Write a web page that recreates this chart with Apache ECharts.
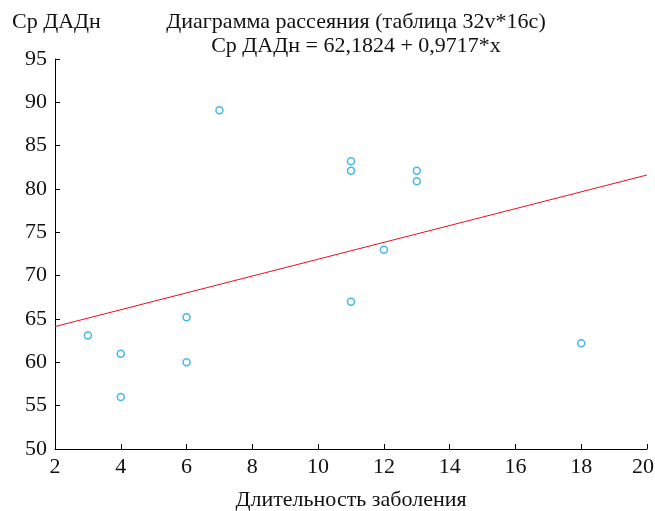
<!DOCTYPE html>
<html><head><meta charset="utf-8">
<script src="https://cdn.jsdelivr.net/npm/echarts@6/dist/echarts.min.js"></script>
<style>html,body{margin:0;padding:0;background:#fff}#c{width:655px;height:511px}</style>
</head><body><div id="c"></div>
<script>
const xValues = [3, 4, 4, 6, 6, 7, 11, 11, 11, 12, 13, 13, 18];
const yValues = [63.1, 61.0, 56.0, 65.2, 60.0, 89.1, 83.2, 82.1, 67.0, 73.0, 82.1, 80.9, 62.2];
const intercept = 62.1824;
const slope = 0.9717;
const titleLine1 = 'Диаграмма рассеяния (таблица 32v*16c)';
const titleLine2 = 'Ср ДАДн = 62,1824 + 0,9717*x';
const yName = 'Ср ДАДн';
const xName = 'Длительность заболения';

const font = 'Liberation Serif';
const fs = 22;
const xMax = 20;
const points = xValues.map((x, i) => [x, yValues[i]]);
const lineData = [[2, intercept + slope * 2], [xMax, intercept + slope * xMax]];

const chart = echarts.init(document.getElementById('c'), null, {renderer: 'canvas'});
chart.setOption({
  animation: false,
  backgroundColor: '#fff',
  title: [
    {text: titleLine1, left: 356, top: 11, textAlign: 'center', padding: 0,
     textStyle: {fontFamily: font, fontSize: fs, fontWeight: 'normal', color: '#111'}},
    {text: titleLine2, left: 356, top: 35, textAlign: 'center', padding: 0,
     textStyle: {fontFamily: font, fontSize: fs, fontWeight: 'normal', color: '#111'}},
    {text: yName, left: 12, top: 11, padding: 0,
     textStyle: {fontFamily: font, fontSize: fs, fontWeight: 'normal', color: '#111'}}
  ],
  grid: {left: 55, right: 8, top: 59, bottom: 62, outerBoundsMode: 'none', containLabel: false},
  xAxis: {
    type: 'value', min: 2, max: xMax, interval: 2,
    name: xName, nameLocation: 'middle', nameGap: 40,
    nameTextStyle: {fontFamily: font, fontSize: fs, color: '#111'},
    axisLine: {show: true, onZero: false, lineStyle: {color: '#000', width: 1}},
    axisTick: {show: true, inside: true, length: 5, lineStyle: {color: '#000'}},
    axisLabel: {fontFamily: font, fontSize: fs, color: '#111', margin: 7,
      formatter: v => v === xMax ? '{m|' + v + '}' : String(v),
      rich: {m: {fontFamily: font, fontSize: fs, color: '#111', padding: [0, 8, 0, 0]}}},
    splitLine: {show: false}
  },
  yAxis: {
    type: 'value', min: 50, max: 95, interval: 5,
    axisLine: {show: true, onZero: false, lineStyle: {color: '#000', width: 1}},
    axisTick: {show: true, inside: true, length: 5, lineStyle: {color: '#000'}},
    axisLabel: {fontFamily: font, fontSize: fs, color: '#111', margin: 8},
    splitLine: {show: false}
  },
  series: [
    {type: 'line', data: lineData, symbol: 'none', silent: true,
     lineStyle: {color: '#e8121c', width: 1}, z: 2},
    {type: 'scatter', data: points, symbol: 'circle', symbolSize: 7,
     itemStyle: {color: '#fff', borderColor: '#16a6e2', borderWidth: 1.5}, z: 3}
  ]
});
</script></body></html>
